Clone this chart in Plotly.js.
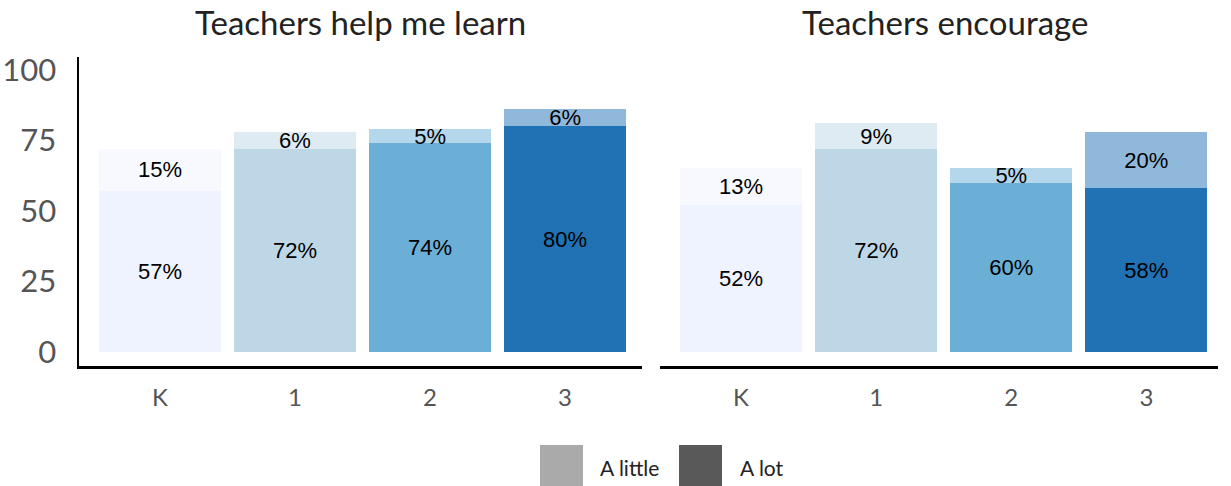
<!DOCTYPE html>
<html>
<head>
<meta charset="utf-8">
<script src="https://cdn.plot.ly/plotly-3.0.1.min.js"></script>
<style>html,body{margin:0;padding:0;background:#fff;}#chart{width:1231px;height:486px;}</style>
</head>
<body>
<div id="chart"></div>
<script>
// ---- data ----
const grades = ["K", "1", "2", "3"];
const helpLearnALot = [57, 72, 74, 80];
const helpLearnALittle = [15, 6, 5, 6];
const encourageALot = [52, 72, 60, 58];
const encourageALittle = [13, 9, 5, 20];
const panelTitles = ["Teachers help me learn", "Teachers encourage"];
const seriesNames = ["A little", "A lot"];
const yTicks = [0, 25, 50, 75, 100];

// ---- styles ----
const aLotColors = ["#eff3ff", "#bdd7e7", "#6baed6", "#2171b5"];
const aLittleColors = ["#f7f9ff", "#deebf3", "#b5d7eb", "#90b8da"];
const legendColors = ["#aaaaaa", "#595959"];
const W = 1231, H = 486, ML = 79, MR = 13, MT = 57, MB = 120;
const PW = W - ML - MR, PH = H - MT - MB;
const px = v => (v - ML) / PW;
const py = v => (H - MB - v) / PH;

const textFont = {family: "Liberation Sans, Arial, sans-serif", size: 22, color: "#000"};

function barTrace(xa, ya, y, colors, name) {
  return {
    type: "bar", x: grades, y: y, xaxis: xa, yaxis: ya, name: name,
    marker: {color: colors, line: {width: 0}},
    text: y.map(v => v + "%"), textposition: "inside", insidetextanchor: "middle",
    textangle: 0, constraintext: "none", insidetextfont: textFont,
    hoverinfo: "none", showlegend: false, cliponaxis: false
  };
}

const data = [
  barTrace("x", "y", helpLearnALot, aLotColors, seriesNames[1]),
  barTrace("x", "y", helpLearnALittle, aLittleColors, seriesNames[0]),
  barTrace("x2", "y2", encourageALot, aLotColors, seriesNames[1]),
  barTrace("x2", "y2", encourageALittle, aLittleColors, seriesNames[0])
];

const tickFontX = {family: "Lato, sans-serif", size: 24, color: "#555"};
const xBase = {
  type: "category", showline: true, linecolor: "#000", linewidth: 3,
  showgrid: false, zeroline: false, ticks: "", tickfont: tickFontX,
  ticklabelstandoff: 8, fixedrange: true
};
const yBase = {
  range: [-5, 104.5], showgrid: false, zeroline: false, fixedrange: true,
  tickvals: yTicks, ticks: ""
};

const layout = {
  width: W, height: H,
  margin: {l: ML, r: MR, t: MT, b: MB, pad: 0},
  paper_bgcolor: "#fff", plot_bgcolor: "#fff",
  barmode: "stack", bargap: 0.096, showlegend: false,
  xaxis: Object.assign({}, xBase, {domain: [0, px(642)], range: [-0.6, 3.57], anchor: "y"}),
  yaxis: Object.assign({}, yBase, {
    domain: [0, 1], anchor: "x", showline: true, linecolor: "#000", linewidth: 2.5,
    tickfont: {family: "Lato, sans-serif", size: 31, color: "#555"}, ticklabelstandoff: 14
  }),
  xaxis2: Object.assign({}, xBase, {domain: [px(660), 1], range: [-0.6, 3.53], anchor: "y2"}),
  yaxis2: Object.assign({}, yBase, {domain: [0, 1], anchor: "x2", showline: false, showticklabels: false}),
  annotations: [
    {text: panelTitles[0], xref: "x domain", yref: "paper", x: 0.5, y: py(22), xanchor: "center", yanchor: "middle",
     showarrow: false, font: {family: "Lato, sans-serif", size: 33, color: "#222"}},
    {text: panelTitles[1], xref: "x2 domain", yref: "paper", x: 0.51, y: py(22), xanchor: "center", yanchor: "middle",
     showarrow: false, font: {family: "Lato, sans-serif", size: 33, color: "#222"}},
    {text: seriesNames[0], xref: "paper", yref: "paper", x: px(598), y: py(467), xanchor: "left", yanchor: "middle",
     showarrow: false, font: {family: "Lato, sans-serif", size: 21, color: "#222"}},
    {text: seriesNames[1], xref: "paper", yref: "paper", x: px(738), y: py(467), xanchor: "left", yanchor: "middle",
     showarrow: false, font: {family: "Lato, sans-serif", size: 21, color: "#222"}}
  ],
  shapes: [
    {type: "rect", xref: "paper", yref: "paper", x0: px(540), x1: px(583), y0: py(445), y1: py(488),
     fillcolor: legendColors[0], line: {width: 0}},
    {type: "rect", xref: "paper", yref: "paper", x0: px(679), x1: px(722), y0: py(445), y1: py(488),
     fillcolor: legendColors[1], line: {width: 0}}
  ]
};

Plotly.newPlot("chart", data, layout, {displayModeBar: false, staticPlot: true});
</script>
</body>
</html>
